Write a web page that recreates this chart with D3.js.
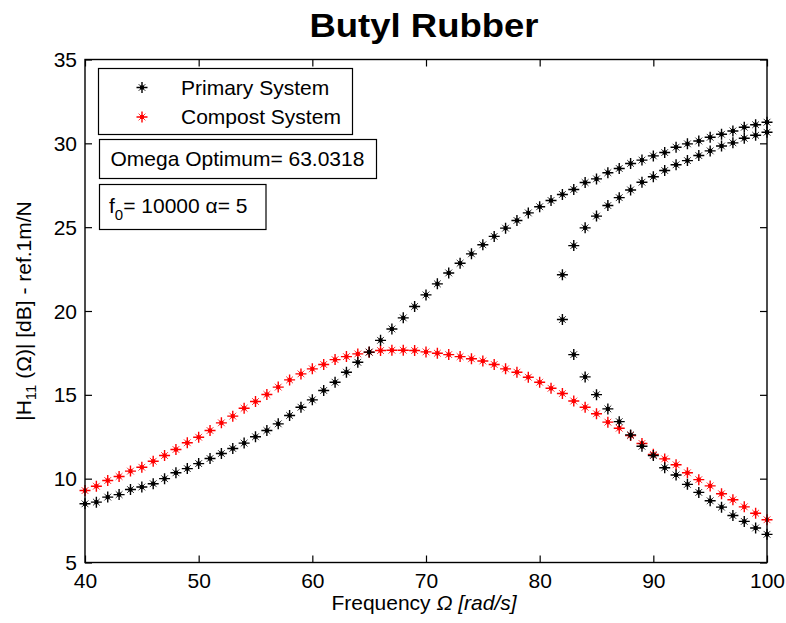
<!DOCTYPE html>
<html>
<head>
<meta charset="utf-8">
<script src="https://cdn.jsdelivr.net/npm/d3@7"></script>
<style>
  html, body { margin: 0; padding: 0; background: #fff; }
  svg { display: block; font-family: "Liberation Sans", Arial, Helvetica, sans-serif; }
</style>
</head>
<body>
<svg id="chart" width="786" height="623"></svg>
<script>
// Frequency grid (rad/s)
const freq = [40,41,42,43,44,45,46,47,48,49,50,51,52,53,54,55,56,57,58,59,60,
  61,62,63,64,65,66,67,68,69,70,71,72,73,74,75,76,77,78,79,80,
  81,82,83,84,85,86,87,88,89,90,91,92,93,94,95,96,97,98,99,100];

// Primary system, main branch |H11| in dB
const primaryMain = [8.50,8.60,8.90,9.05,9.35,9.50,9.70,10.00,10.35,10.60,10.90,
  11.20,11.50,11.80,12.12,12.50,12.87,13.27,13.77,14.26,14.70,
  15.26,15.75,16.35,16.94,17.55,18.25,18.93,19.59,20.27,20.96,
  21.62,22.27,22.85,23.41,23.95,24.45,24.94,25.40,25.85,26.22,
  26.59,26.95,27.25,27.66,27.88,28.25,28.50,28.80,29.00,29.25,
  29.45,29.77,29.97,30.14,30.36,30.54,30.74,30.96,31.11,31.26];

// Primary system, extra solution branches above the jump frequency
const freqJump = [82,83,84,85,86,87,88,89,90,91,92,93,94,95,96,97,98,99,100];
const primaryMiddle = [22.16,23.90,24.96,25.66,26.29,26.76,27.22,27.68,28.01,28.38,
  28.72,28.97,29.27,29.55,29.84,30.03,30.30,30.48,30.66];
const primaryLower = [19.49,17.40,16.07,15.01,14.16,13.40,12.61,11.93,11.38,10.65,
  10.22,9.66,9.18,8.68,8.30,7.80,7.45,7.06,6.68];

// Compost system |H11| in dB
const compost = [9.29,9.55,9.89,10.13,10.45,10.68,11.04,11.38,11.74,12.14,12.47,
  12.87,13.33,13.73,14.20,14.60,15.02,15.46,15.89,16.25,16.55,
  16.81,17.10,17.28,17.44,17.54,17.64,17.66,17.66,17.64,17.56,
  17.48,17.40,17.28,17.15,17.02,16.81,16.55,16.35,16.05,15.75,
  15.39,15.08,14.63,14.26,13.87,13.37,13.01,12.57,12.10,11.45,
  11.18,10.83,10.35,9.94,9.57,9.10,8.74,8.32,7.94,7.55];

const xTicks = [40,50,60,70,80,90,100];
const yTicks = [5,10,15,20,25,30,35];

const seriesNames = ["Primary System", "Compost System"];
const seriesColors = ["#000000", "#ff0000"];

const title = "Butyl Rubber";
const omegaOpt = "63.0318";
const f0 = "10000";
const alpha = "5";

const svg = d3.select("#chart");
const W = 786, H = 623;
const plot = { left: 85, right: 767, top: 59.5, bottom: 562.5 };

const x = d3.scaleLinear().domain([40, 100]).range([plot.left, plot.right]);
const y = d3.scaleLinear().domain([5, 35]).range([plot.bottom, plot.top]);

svg.append("rect").attr("width", W).attr("height", H).attr("fill", "#fff");

// '*' marker: bold plus, thin short diagonals, dark centre
function plusPath(cx, cy) {
  const r = 5.5;
  const p = d3.path();
  p.moveTo(cx - r, cy); p.lineTo(cx + r, cy);
  p.moveTo(cx, cy - r); p.lineTo(cx, cy + r);
  return p.toString();
}
function crossPath(cx, cy) {
  const d = 3.4;
  const p = d3.path();
  p.moveTo(cx - d, cy - d); p.lineTo(cx + d, cy + d);
  p.moveTo(cx - d, cy + d); p.lineTo(cx + d, cy - d);
  return p.toString();
}

function star(g, cx, cy, color) {
  g.append("path").attr("d", crossPath(cx, cy))
    .attr("stroke", color).attr("stroke-width", 1).attr("fill", "none").attr("opacity", 0.8);
  g.append("path").attr("d", plusPath(cx, cy))
    .attr("stroke", color).attr("stroke-width", 1.4).attr("fill", "none");
  g.append("rect").attr("x", cx - 2).attr("y", cy - 2)
    .attr("width", 4).attr("height", 4).attr("fill", color);
}

function drawStars(g, pts, color) {
  pts.forEach(d => star(g, x(d[0]), y(d[1]), color));
}

// Axes (ticks inside on all four sides)
const axB = d3.axisBottom(x).tickValues(xTicks).tickSizeInner(-7).tickSizeOuter(0).tickPadding(16);
const axT = d3.axisTop(x).tickValues(xTicks).tickSizeInner(-7).tickSizeOuter(0).tickFormat("");
const axL = d3.axisLeft(y).tickValues(yTicks).tickSizeInner(-7).tickSizeOuter(0).tickPadding(8);
const axR = d3.axisRight(y).tickValues(yTicks).tickSizeInner(-7).tickSizeOuter(0).tickFormat("");

function styleAxis(g) {
  g.select(".domain").remove();
  g.selectAll(".tick line").attr("stroke", "#000").attr("stroke-width", 1.2);
  g.selectAll(".tick text").attr("fill", "#000").attr("font-size", 21)
    .attr("font-family", "Liberation Sans, Arial, sans-serif");
}

svg.append("g").attr("transform", `translate(0,${plot.bottom})`).call(axB).call(styleAxis)
  .selectAll(".tick text").attr("dy", "0.45em");
svg.append("g").attr("transform", `translate(0,${plot.top})`).call(axT).call(styleAxis);
svg.append("g").attr("transform", `translate(${plot.left},0)`).call(axL).call(styleAxis)
  .selectAll(".tick text").attr("dy", "0.34em");
svg.append("g").attr("transform", `translate(${plot.right},0)`).call(axR).call(styleAxis);

// Data markers
const gData = svg.append("g");
drawStars(gData, freq.map((f, i) => [f, compost[i]]), seriesColors[1]);
drawStars(gData, freq.map((f, i) => [f, primaryMain[i]]), seriesColors[0]);
drawStars(gData, freqJump.map((f, i) => [f, primaryMiddle[i]]), seriesColors[0]);
drawStars(gData, freqJump.map((f, i) => [f, primaryLower[i]]), seriesColors[0]);

// Axes box
svg.append("rect")
  .attr("x", plot.left).attr("y", plot.top)
  .attr("width", plot.right - plot.left).attr("height", plot.bottom - plot.top)
  .attr("fill", "none").attr("stroke", "#000").attr("stroke-width", 1.4);

// Title
svg.append("text").attr("x", 424).attr("y", 37)
  .attr("text-anchor", "middle").attr("font-size", 34).attr("font-weight", "bold")
  .attr("textLength", 229).attr("lengthAdjust", "spacingAndGlyphs")
  .attr("font-family", "Liberation Sans, Arial, sans-serif")
  .text(title);

// X label
const xl = svg.append("text").attr("x", 424).attr("y", 610)
  .attr("text-anchor", "middle").attr("font-size", 21).attr("fill", "#000");
xl.append("tspan").text("Frequency ");
xl.append("tspan").attr("font-style", "italic").text("Ω [rad/s]");

// Y label
const yl = svg.append("text")
  .attr("transform", "translate(31,311) rotate(-90)")
  .attr("text-anchor", "middle").attr("font-size", 21).attr("fill", "#000");
yl.append("tspan").text("|H");
yl.append("tspan").attr("font-size", 15).attr("dy", 5).text("11");
yl.append("tspan").attr("dy", -5).text(" (Ω)| [dB] - ref.1m/N");

// Legend
const leg = svg.append("g");
leg.append("rect").attr("x", 98.5).attr("y", 68.5).attr("width", 254).attr("height", 66)
  .attr("fill", "#fff").attr("stroke", "#000").attr("stroke-width", 1.2);
seriesNames.forEach((name, i) => {
  const cy = 87.5 + i * 29.5;
  star(leg, 142, cy, seriesColors[i]);
  leg.append("text").attr("x", 181).attr("y", cy + 7.3).attr("font-size", 21).text(name);
});

// Annotation boxes
const ann = svg.append("g");
ann.append("rect").attr("x", 99.5).attr("y", 139.5).attr("width", 277).attr("height", 39)
  .attr("fill", "#fff").attr("stroke", "#000").attr("stroke-width", 1.2);
ann.append("text").attr("x", 110.5).attr("y", 166).attr("font-size", 21)
  .text("Omega Optimum= " + omegaOpt);

ann.append("rect").attr("x", 99.5).attr("y", 184.5).attr("width", 166.5).attr("height", 45)
  .attr("fill", "#fff").attr("stroke", "#000").attr("stroke-width", 1.2);
const ft = ann.append("text").attr("x", 109).attr("y", 213).attr("font-size", 21);
ft.append("tspan").text("f");
ft.append("tspan").attr("font-size", 15).attr("dy", 7).text("0");
ft.append("tspan").attr("dy", -7).text("= " + f0 + " α= " + alpha);
</script>
</body>
</html>
